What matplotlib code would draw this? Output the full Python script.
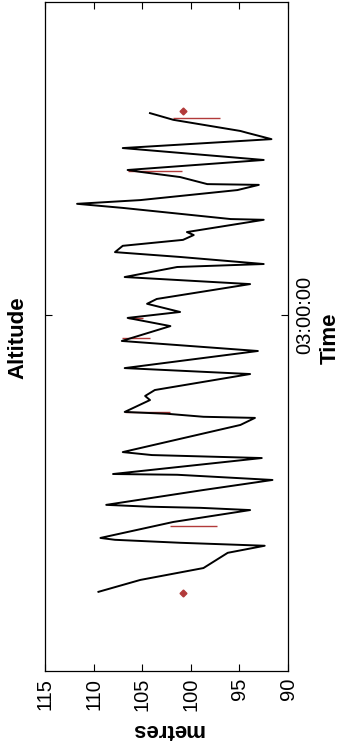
import matplotlib
matplotlib.use('Agg')
import matplotlib.pyplot as plt

plt.rcParams['font.family'] = ['Liberation Sans', 'DejaVu Sans']

# Zeit in Minuten seit 00:00, Hoehe in Metern
zeit = [105.5, 108.7, 111.9, 116.0, 117.9, 118.7, 119.5, 120.0, 124.3, 127.5,
        128.1, 128.4, 128.9, 132.9, 135.6, 137.0, 137.2, 141.5, 142.3, 143.1,
        150.4, 152.3, 152.6, 153.4, 153.9, 157.1, 158.2, 159.8, 164.1, 165.7,
        170.3, 173.0, 177.0, 179.2, 180.8, 183.0, 184.3, 188.3, 190.2, 192.9,
        193.7, 195.6, 196.9, 198.6, 200.2, 201.5, 202.3, 205.6, 205.8, 208.8,
        209.9, 210.9, 213.6, 215.0, 215.2, 217.1, 218.5, 219.0, 221.7, 224.9,
        227.3, 229.0, 229.5, 232.5, 234.3]
hoehe = [109.5, 105.2, 98.7, 96.2, 92.4, 101.1, 107.8, 109.3, 101.8, 93.9,
         99.0, 104.2, 108.7, 98.7, 91.6, 101.4, 108.0, 92.7, 104.0, 107.0,
         94.9, 93.4, 98.7, 102.4, 106.8, 104.2, 104.7, 103.7, 93.9, 106.8,
         93.1, 107.1, 102.1, 106.5, 101.1, 104.5, 103.5, 93.9, 106.8, 101.4,
         92.5, 101.1, 107.8, 107.0, 100.8, 99.7, 100.4, 92.5, 95.9, 107.0,
         111.7, 105.2, 95.2, 93.0, 98.3, 101.1, 105.2, 106.5, 92.5, 107.0,
         91.7, 94.2, 94.9, 101.8, 104.2]

# kurze Ausreisser (rot)
spike_zeit = [123.2, 153.9, 173.8, 179.2, 218.7, 233.0]
spike_von = [102.1, 106.8, 107.1, 106.5, 106.5, 101.8]
spike_bis = [97.3, 102.1, 104.2, 104.9, 100.9, 97.0]

# Start- und Endmarker
marker_zeit = [105.2, 234.9]
marker_hoehe = [100.8, 100.8]

hoehe_ticks = [115, 110, 105, 100, 95, 90]
zeit_ticks = [180]
zeit_ticklabels = ['03:00:00']

rot = '#b23a3a'

fig = plt.figure(figsize=(3.39, 7.46), dpi=100)
ax = fig.add_axes([45/339, 75/746, 243/339, 669/746])

ax.hlines(spike_zeit, spike_von, spike_bis, color=rot, linewidth=1.0)
ax.plot(hoehe, zeit, color='k', linewidth=1.4)
ax.plot(marker_hoehe, marker_zeit, linestyle='none', marker='D',
        markersize=3.5, color=rot)

ax.set_xlim(115, 90)
ax.set_ylim(84.2, 264.2)

ax.set_xticks(hoehe_ticks)
ax.set_xticklabels([str(h) for h in hoehe_ticks], rotation=90)
ax.set_yticks(zeit_ticks)
ax.set_yticklabels(zeit_ticklabels, rotation=90, va='center')

ax.tick_params(axis='x', direction='in', top=True, bottom=True,
               length=5, width=0.8, pad=5, labelsize=14.5)
ax.tick_params(axis='y', direction='in', left=True, right=True,
               labelleft=False, labelright=True,
               length=5, width=0.8, pad=5, labelsize=14.5)
for s in ax.spines.values():
    s.set_linewidth(0.9)

# Beschriftungen (Bild ist um 90 Grad gedreht)
fig.text(167/339, 1 - 729/746, 'metres', rotation=180, ha='center',
         va='center', fontsize=16, fontweight='bold')
fig.text(18/339, 1 - 338/746, 'Altitude', rotation=90, ha='center',
         va='center', fontsize=16, fontweight='bold')
fig.text(330/339, 1 - 338/746, 'Time', rotation=90, ha='center',
         va='center', fontsize=16, fontweight='bold')

fig.savefig('out.png', dpi=100)
